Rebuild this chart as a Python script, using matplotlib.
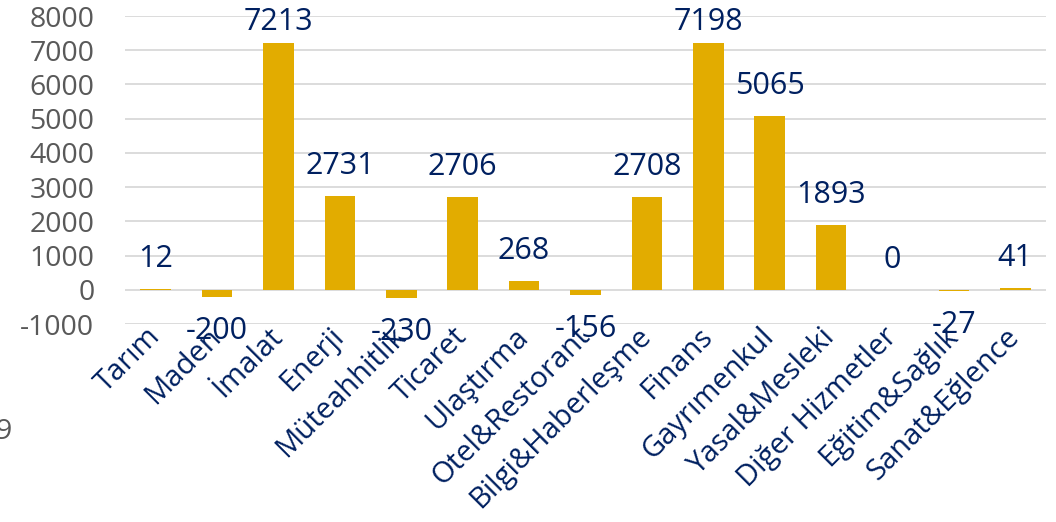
import matplotlib
matplotlib.use('Agg')
import matplotlib.pyplot as plt

# sector values
sectors = ['Tarım', 'Maden', 'İmalat', 'Enerji', 'Müteahhitlik', 'Ticaret',
           'Ulaştırma', 'Otel&Restorant', 'Bilgi&Haberleşme', 'Finans',
           'Gayrımenkul', 'Yasal&Mesleki', 'Diğer Hizmetler', 'Eğitim&Sağlık',
           'Sanat&Eğlence']
values = [12, -200, 7213, 2731, -230, 2706, 268, -156, 2708, 7198, 5065,
          1893, 0, -27, 41]

bar_color = '#E2AC00'
navy = '#002060'
grey = '#595959'

plt.rcParams['font.family'] = ['Open Sans', 'DejaVu Sans']
plt.rcParams['axes.unicode_minus'] = False

fig = plt.figure(figsize=(10.56, 5.22), dpi=100)
ax = fig.add_axes([0.1184, 0.3793, 0.8721, 0.59])

x = range(len(sectors))
ax.bar(x, values, width=0.5, color=bar_color, zorder=3)

ax.set_ylim(-1000, 8000)
ax.set_xlim(-0.5, len(sectors) - 0.5)
ax.set_yticks(range(-1000, 8001, 1000))
ax.yaxis.grid(True, color='#D9D9D9', linewidth=1.3, zorder=0)
for s in ax.spines.values():
    s.set_visible(False)
ax.tick_params(axis='both', length=0)
ax.tick_params(axis='y', labelsize=20.5, labelcolor=grey, pad=22)
ax.set_xticks(list(x))
ax.set_xticklabels(sectors, rotation=45, ha='right', va='center',
                   rotation_mode='anchor', fontsize=21, color=navy)
ax.tick_params(axis='x', pad=6)

# data labels (Excel style: outside end, clamped at the top)
for i, v in enumerate(values):
    if v >= 0:
        ypos = min(v + 880, 7820)
    else:
        ypos = v - 1000
    ax.text(i, ypos, str(v), ha='center', va='center', fontsize=22,
            color=navy, zorder=4)

# clipped leftover text at the left edge
fig.text(-0.004, 0.172, '9', fontsize=20.5, color=grey, ha='left', va='center')

fig.savefig('out.png', dpi=100)
